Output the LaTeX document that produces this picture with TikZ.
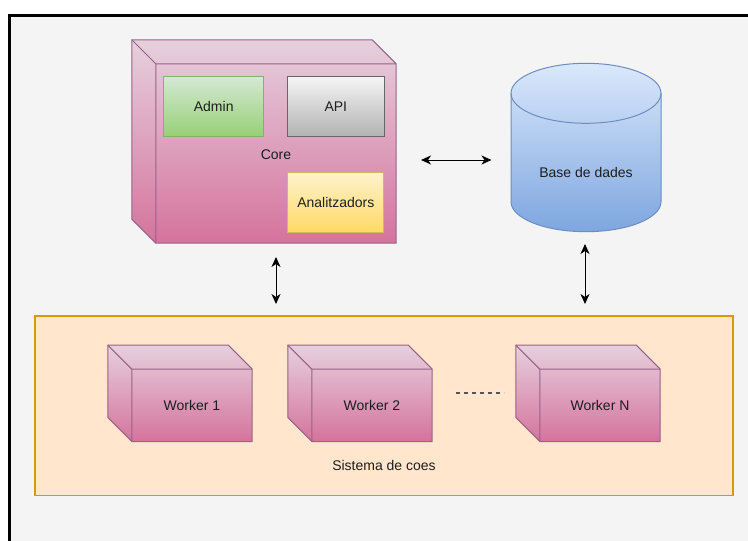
\documentclass[tikz,border=0pt]{standalone}
\usepackage{fontspec}
\setmainfont{Liberation Sans}
\usetikzlibrary{calc,arrows.meta}

\definecolor{panelbg}{HTML}{F4F4F4}
\definecolor{cubetop}{HTML}{E6D0DE}
\definecolor{cubebot}{HTML}{D5739D}
\definecolor{cubeedge}{HTML}{996185}
\definecolor{admintop}{HTML}{D5E8D4}
\definecolor{adminbot}{HTML}{97D077}
\definecolor{adminedge}{HTML}{82B366}
\definecolor{apitop}{HTML}{F5F5F5}
\definecolor{apibot}{HTML}{B3B3B3}
\definecolor{apiedge}{HTML}{666666}
\definecolor{antop}{HTML}{FFF2CC}
\definecolor{anbot}{HTML}{FFD966}
\definecolor{anedge}{HTML}{D6B656}
\definecolor{dbtop}{HTML}{DAE8FC}
\definecolor{dbbot}{HTML}{7EA6E0}
\definecolor{dbedge}{HTML}{6C8EBF}
\definecolor{queuefill}{HTML}{FFE6CC}
\definecolor{queueedge}{HTML}{D79B00}
\definecolor{ink}{HTML}{1E1E1E}
\definecolor{dotgray}{HTML}{555555}

\pgfdeclarelayer{panel}
\pgfdeclarelayer{background}
\pgfsetlayers{panel,background,main}

\tikzset{
  lbl/.style={text=ink, font=\fontsize{14pt}{16pt}\selectfont, inner sep=0pt},
  face/.style={lbl, minimum width=#1, inner sep=0pt},
  cubefill/.style={draw=cubeedge, line width=1pt, top color=cubetop, bottom color=cubebot},
  cubeline/.style={draw=cubeedge, line width=1pt},
  part/.style={lbl, line width=1pt, minimum height=60pt},
  link/.style={draw=black, line width=1pt, {Stealth[length=10pt,width=9pt,inset=3pt]}-{Stealth[length=10pt,width=9pt,inset=3pt]}},
}

% 3D box drawn behind a front-face node, depth 24 up-left
\newcommand\boxcube[1]{%
  \begin{pgfonlayer}{background}
    \path[cubefill] ($(#1.north west)+(-24,24)$) -- ($(#1.north east)+(-24,24)$)
      -- (#1.north east) -- (#1.south east) -- (#1.south west)
      -- ($(#1.south west)+(-24,24)$) -- cycle;
    \draw[cubeline] ($(#1.north west)+(-24,24)$) -- (#1.north west)
      (#1.north east) -- (#1.north west) -- (#1.south west);
  \end{pgfonlayer}}

\begin{document}
\begin{tikzpicture}[x=1pt,y=1pt]
  \useasboundingbox (0,0) rectangle (748,-541);

  % canvas and its frame
  \begin{pgfonlayer}{panel}
    \fill[white] (0,0) rectangle (748,-541);
    \fill[panelbg] (9,-15) rectangle (748,-541);
    \draw[black, line width=2.4pt] (9.3,-541) -- (9.3,-15.3) -- (748,-15.3);
    % message queue container
    \node[draw=queueedge, fill=queuefill, line width=1.3pt,
          minimum width=698pt, minimum height=179.5pt, inner sep=0pt]
          (queue) at (384,-405.7) {};
  \end{pgfonlayer}
  \node[lbl] (queuelbl) at (384,-465) {Sistema de coes};

  % core server
  \node[face=240pt, minimum height=179pt] (core) at (276,-153.5) {};
  \boxcube{core}
  \node[lbl] (corelbl) at (276,-154.3) {Core};
  \node[part, minimum width=100pt, draw=adminedge, top color=admintop, bottom color=adminbot]
        (admin) at (213.7,-106.3) {Admin};
  \node[part, minimum width=97pt, draw=apiedge, top color=apitop, bottom color=apibot]
        (api) at (335.8,-106.3) {API};
  \node[part, minimum width=96pt, draw=anedge, top color=antop, bottom color=anbot]
        (anal) at (335.8,-202.3) {Analitzadors};

  % database cylinder
  \path[draw=dbedge, line width=1pt, top color=dbtop, bottom color=dbbot]
    (511,-93.3) arc[start angle=180, end angle=0, x radius=75, y radius=30]
    -- (661,-201.7) arc[start angle=0, end angle=-180, x radius=75, y radius=30]
    -- cycle;
  \draw[dbedge, line width=1pt]
    (511,-93.3) arc[start angle=180, end angle=360, x radius=75, y radius=30];
  \node[lbl] (db) at (586,-172.3) {Base de dades};

  % workers
  \node[face=120pt, minimum height=72pt] (w1) at (192,-405.3) {Worker 1};
  \boxcube{w1}
  \node[face=120pt, minimum height=72pt] (w2) at (372,-405.3) {Worker 2};
  \boxcube{w2}
  \node[face=120pt, minimum height=72pt] (wn) at (600,-405.3) {Worker N};
  \boxcube{wn}

  % ellipsis between workers
  \coordinate (dotsA) at (456,-393.3);
  \coordinate (dotsB) at (504,-393.3);
  \draw[dotgray, line width=1.8pt, dash pattern=on 4pt off 4pt] (dotsA) -- (dotsB);

  % bidirectional links
  \coordinate (hA) at (421,-160);
  \coordinate (hB) at (491.5,-160);
  \draw[link] (hA) -- (hB);
  \coordinate (vA) at (276,-257);
  \coordinate (vB) at (276,-304);
  \draw[link] (vA) -- (vB);
  \coordinate (dA) at (585,-244);
  \coordinate (dB) at (585,-304);
  \draw[link] (dA) -- (dB);
\end{tikzpicture}
\end{document}
